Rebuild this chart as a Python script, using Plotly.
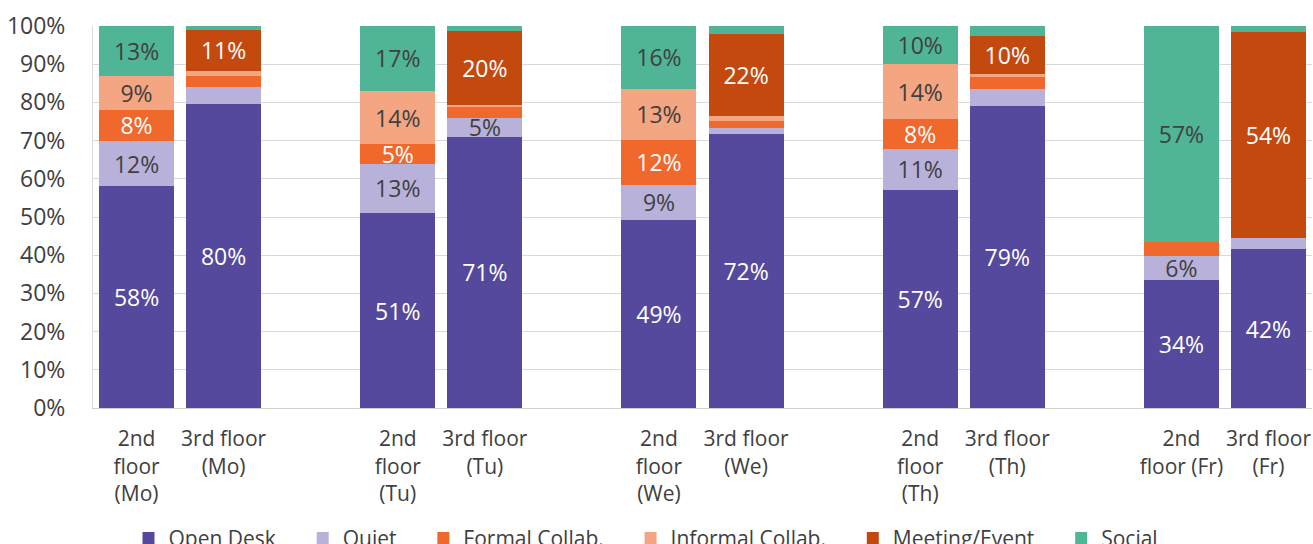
import plotly.graph_objects as go

# Occupancy share by space type, per floor and weekday
days = ["Mo", "Tu", "We", "Th", "Fr"]
floors = ["2nd floor", "3rd floor"]
bar_labels = [
    "2nd<br>floor<br>(Mo)", "3rd floor<br>(Mo)",
    "2nd<br>floor<br>(Tu)", "3rd floor<br>(Tu)",
    "2nd<br>floor<br>(We)", "3rd floor<br>(We)",
    "2nd<br>floor<br>(Th)", "3rd floor<br>(Th)",
    "2nd<br>floor (Fr)", "3rd floor<br>(Fr)",
]

open_desk = [0.58, 0.796, 0.51, 0.71, 0.492, 0.717, 0.572, 0.791, 0.336, 0.416]
quiet = [0.12, 0.044, 0.13, 0.05, 0.092, 0.017, 0.106, 0.043, 0.063, 0.030]
formal_collab = [0.08, 0.029, 0.05, 0.028, 0.118, 0.018, 0.079, 0.033, 0.035, 0.0]
informal_collab = [0.09, 0.013, 0.14, 0.004, 0.134, 0.012, 0.143, 0.007, 0.0, 0.0]
meeting_event = [0.0, 0.108, 0.0, 0.196, 0.0, 0.216, 0.0, 0.101, 0.0, 0.539]
social = [0.13, 0.010, 0.17, 0.012, 0.164, 0.020, 0.100, 0.025, 0.566, 0.015]

series = [
    ("Open Desk", open_desk, "#55499d", "white"),
    ("Quiet", quiet, "#b8b2da", "#404040"),
    ("Formal Collab.", formal_collab, "#f0682c", "white"),
    ("Informal Collab.", informal_collab, "#f4a582", "#404040"),
    ("Meeting/Event", meeting_event, "#c4490f", "white"),
    ("Social", social, "#4fb596", "#404040"),
]

# one empty slot between weekday pairs
positions = [d * 3 + f for d in range(len(days)) for f in range(len(floors))]

FONT = "Open Sans"
PAD = "\u00a0" * 4  # extra room between legend entries

fig = go.Figure()
for name, vals, color, txtcolor in series:
    fig.add_trace(go.Bar(
        name=name + PAD,
        x=positions,
        y=vals,
        marker=dict(color=color, line=dict(width=0)),
        text=[f"{v:.0%}" if v >= 0.05 else "" for v in vals],
        textposition="inside",
        insidetextanchor="middle",
        textangle=0,
        insidetextfont=dict(family=FONT, size=23, color=txtcolor),
        hoverinfo="skip",
    ))

fig.update_layout(
    barmode="stack",
    bargap=0.138,
    width=1313,
    height=544,
    margin=dict(l=93, r=1, t=26, b=136),
    paper_bgcolor="white",
    plot_bgcolor="white",
    font=dict(family=FONT, color="#404040"),
    uniformtext=dict(minsize=23, mode="show"),
    legend=dict(
        orientation="h",
        xref="container", yref="container",
        x=0.5, xanchor="center",
        y=0.048, yanchor="top",
        font=dict(family=FONT, size=21, color="#404040"),
        traceorder="normal",
        itemwidth=30,
    ),
    showlegend=True,
)
fig.update_xaxes(
    range=[-0.5, 13.5],
    tickvals=positions,
    ticktext=bar_labels,
    tickfont=dict(family=FONT, size=21, color="#404040"),
    showgrid=False,
    showline=True,
    linecolor="#d0d0d0",
    linewidth=1,
    ticks="",
    ticklabelstandoff=12,
    zeroline=False,
)
fig.update_yaxes(
    range=[0, 1],
    dtick=0.1,
    tickformat=".0%",
    tickfont=dict(family=FONT, size=23, color="#404040"),
    showgrid=True,
    gridcolor="#d9d9d9",
    gridwidth=1,
    showline=True,
    linecolor="#d9d9d9",
    ticks="",
    ticklabelstandoff=22,
    zeroline=False,
)

fig.write_html("out.html")
